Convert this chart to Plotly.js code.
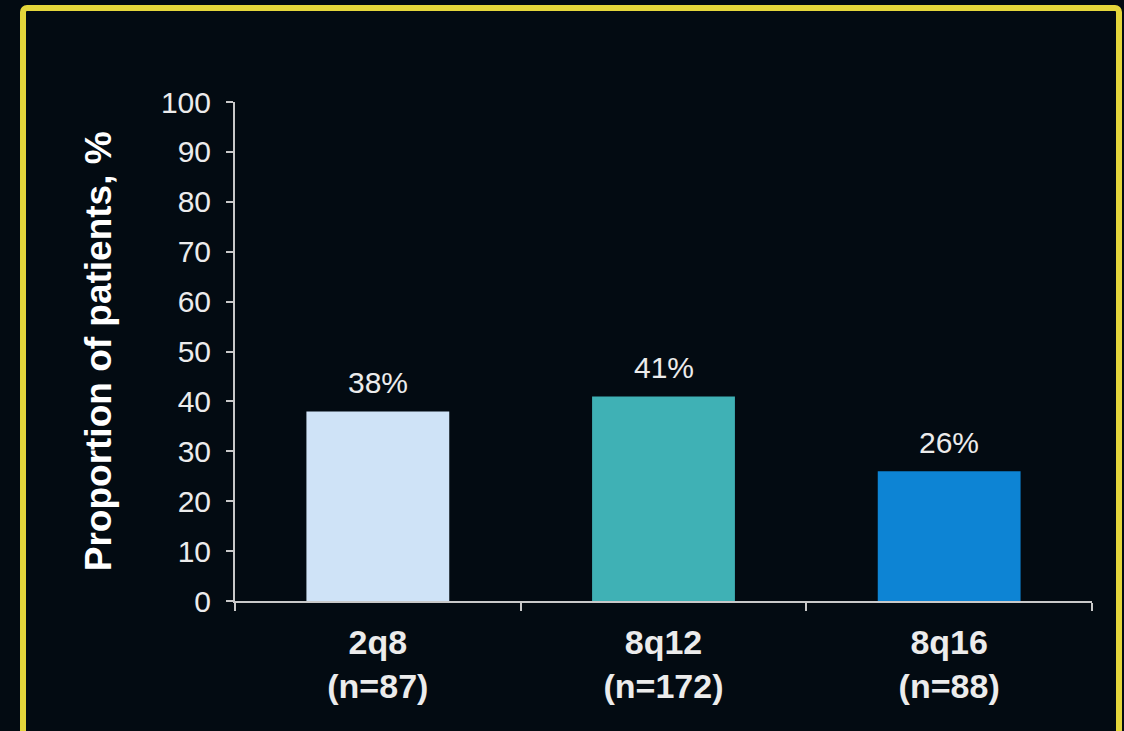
<!DOCTYPE html>
<html>
<head>
<meta charset="utf-8">
<script src="https://cdn.plot.ly/plotly-3.0.1.min.js"></script>
<style>
  html, body { margin:0; padding:0; background:#030b12; width:1124px; height:731px; overflow:hidden; }
  #chart { position:absolute; left:0; top:0; width:1124px; height:731px; }
  #frame { position:absolute; left:20px; top:5px; width:1090px; height:740px; border:6px solid #e4d63b; border-radius:7px; pointer-events:none; }
</style>
</head>
<body>
<div id="chart"></div>
<div id="frame"></div>
<script>
const categories = ["2q8", "8q12", "8q16"];
const sampleSizes = ["(n=87)", "(n=172)", "(n=88)"];
const values = [38, 41, 26];
const barColors = ["#cfe3f7", "#3fb1b5", "#0d84d4"];
const yTickVals = [0, 10, 20, 30, 40, 50, 60, 70, 80, 90, 100];

const textColor = "#ececec";
const axisColor = "#c9c9c9";
const font = "Liberation Sans, Arial, sans-serif";

const trace = {
  type: "bar",
  x: categories,
  y: values,
  marker: { color: barColors, line: { width: 0 } },
  hoverinfo: "none"
};

const valueAnnotations = categories.map((c, i) => ({
  x: c, y: values[i], xref: "x", yref: "y",
  text: values[i] + "%", showarrow: false,
  xanchor: "center", yanchor: "bottom", yshift: 10,
  font: { family: font, size: 30, color: textColor }
}));

const layout = {
  width: 1124, height: 731,
  margin: { l: 235, r: 32, t: 102, b: 130 },
  paper_bgcolor: "#030b12",
  plot_bgcolor: "#030b12",
  bargap: 0.5,
  showlegend: false,
  xaxis: {
    type: "category",
    tickvals: categories,
    ticktext: categories.map((c, i) => "<b>" + c + "</b><br><b>" + sampleSizes[i] + "</b>"),
    tickson: "boundaries",
    ticks: "outside", ticklen: 8, tickwidth: 2, tickcolor: axisColor,
    ticklabelstandoff: 10,
    showline: true, linecolor: axisColor, linewidth: 2,
    showgrid: false, zeroline: false,
    tickfont: { family: font, size: 34, color: textColor },
    fixedrange: true
  },
  yaxis: {
    range: [0, 100],
    tickvals: yTickVals,
    ticks: "outside", ticklen: 7, tickwidth: 2, tickcolor: axisColor,
    ticklabelstandoff: 9,
    showline: true, linecolor: axisColor, linewidth: 2,
    showgrid: false, zeroline: false,
    tickfont: { family: font, size: 30, color: textColor },
    fixedrange: true
  },
  annotations: valueAnnotations.concat([{
    xref: "paper", yref: "paper", x: -0.159, y: 0.5,
    xanchor: "center", yanchor: "middle", textangle: -90, showarrow: false,
    text: "<b>Proportion of patients, %</b>",
    font: { family: font, size: 37, color: "#ffffff" }
  }])
};

Plotly.newPlot("chart", [trace], layout, { staticPlot: true, displayModeBar: false });
</script>
</body>
</html>
